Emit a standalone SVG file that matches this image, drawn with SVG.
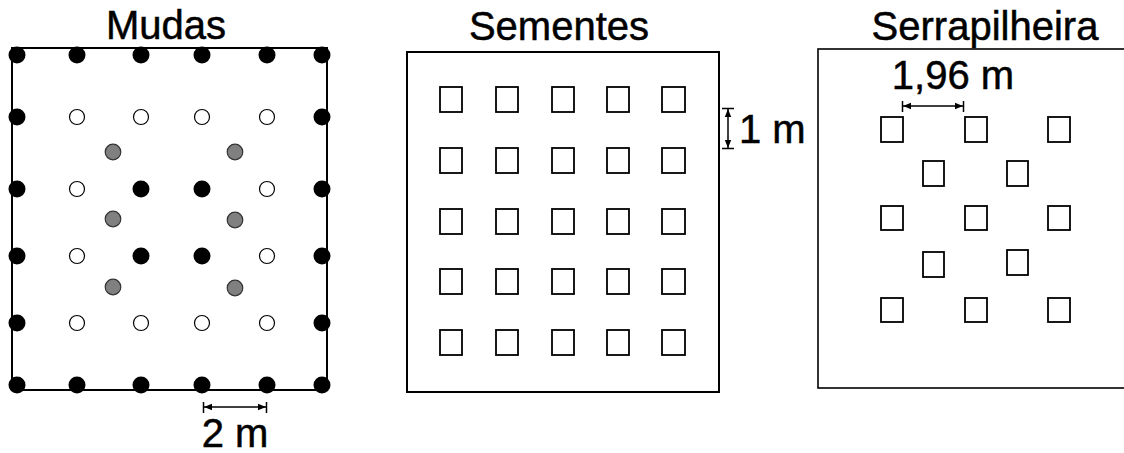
<svg xmlns="http://www.w3.org/2000/svg" width="1124" height="453" viewBox="0 0 1124 453">
<style>
.t{font-family:"Liberation Sans",Arial,sans-serif;font-size:40px;fill:#000;stroke:#000;stroke-width:0.5}
.box{fill:none;stroke:#000;stroke-width:2}
.b{fill:#000}
.o{fill:#fff;stroke:#000;stroke-width:1.2}
.g{fill:#808080;stroke:#333;stroke-width:1.2}
.sq{fill:#fff;stroke:#000;stroke-width:1.8}
.dim{stroke:#000;stroke-width:1.5;fill:none}
</style>
<defs>
<marker id="ah" viewBox="0 0 10 10" refX="10" refY="5" markerWidth="8" markerHeight="8" markerUnits="userSpaceOnUse" orient="auto-start-reverse">
<path d="M0,1 L10,5 L0,9 z" fill="#000"/>
</marker>
</defs>
<rect width="1124" height="453" fill="#fff"/>

<g id="mudas">
<text class="t" x="166" y="39" text-anchor="middle">Mudas</text>
<rect class="box" x="12" y="48" width="315" height="342"/>
<g>
<circle class="b" cx="17" cy="55" r="8.5"/><circle class="b" cx="77" cy="55" r="8.5"/><circle class="b" cx="141" cy="55" r="8.5"/><circle class="b" cx="202" cy="55" r="8.5"/><circle class="b" cx="267" cy="55" r="8.5"/><circle class="b" cx="322" cy="55" r="8.5"/>
<circle class="b" cx="17" cy="117" r="8.5"/><circle class="o" cx="77" cy="117" r="7.5"/><circle class="o" cx="141" cy="117" r="7.5"/><circle class="o" cx="202" cy="117" r="7.5"/><circle class="o" cx="267" cy="117" r="7.5"/><circle class="b" cx="322" cy="117" r="8.5"/>
<circle class="g" cx="113" cy="152" r="7.8"/><circle class="g" cx="235" cy="152" r="7.8"/>
<circle class="b" cx="17" cy="189" r="8.5"/><circle class="o" cx="77" cy="189" r="7.5"/><circle class="b" cx="141" cy="189" r="8.5"/><circle class="b" cx="202" cy="189" r="8.5"/><circle class="o" cx="267" cy="189" r="7.5"/><circle class="b" cx="322" cy="189" r="8.5"/>
<circle class="g" cx="113" cy="219" r="7.8"/><circle class="g" cx="235" cy="220" r="7.8"/>
<circle class="b" cx="17" cy="256" r="8.5"/><circle class="o" cx="77" cy="256" r="7.5"/><circle class="b" cx="141" cy="256" r="8.5"/><circle class="b" cx="202" cy="256" r="8.5"/><circle class="o" cx="267" cy="256" r="7.5"/><circle class="b" cx="322" cy="256" r="8.5"/>
<circle class="g" cx="113" cy="287" r="7.8"/><circle class="g" cx="235" cy="288" r="7.8"/>
<circle class="b" cx="17" cy="323" r="8.5"/><circle class="o" cx="77" cy="323" r="7.5"/><circle class="o" cx="141" cy="323" r="7.5"/><circle class="o" cx="202" cy="323" r="7.5"/><circle class="o" cx="267" cy="323" r="7.5"/><circle class="b" cx="322" cy="323" r="8.5"/>
<circle class="b" cx="17" cy="385" r="8.5"/><circle class="b" cx="77" cy="385" r="8.5"/><circle class="b" cx="141" cy="385" r="8.5"/><circle class="b" cx="202" cy="385" r="8.5"/><circle class="b" cx="267" cy="385" r="8.5"/><circle class="b" cx="322" cy="385" r="8.5"/>
</g>
<text class="t" x="235" y="447" text-anchor="middle">2 m</text>
</g>

<g id="sementes">
<text class="t" x="559" y="40" text-anchor="middle">Sementes</text>
<rect class="box" x="407" y="52" width="312" height="340"/>
<g>
<rect class="sq" x="440" y="87" width="22" height="25"/><rect class="sq" x="496" y="87" width="22" height="25"/><rect class="sq" x="552" y="87" width="22" height="25"/><rect class="sq" x="607" y="87" width="22" height="25"/><rect class="sq" x="662" y="87" width="23" height="25"/>
<rect class="sq" x="440" y="148" width="22" height="25"/><rect class="sq" x="496" y="148" width="22" height="25"/><rect class="sq" x="552" y="148" width="22" height="25"/><rect class="sq" x="607" y="148" width="22" height="25"/><rect class="sq" x="662" y="148" width="23" height="25"/>
<rect class="sq" x="440" y="209" width="22" height="25"/><rect class="sq" x="496" y="209" width="22" height="25"/><rect class="sq" x="552" y="209" width="22" height="25"/><rect class="sq" x="607" y="209" width="22" height="25"/><rect class="sq" x="662" y="209" width="23" height="25"/>
<rect class="sq" x="440" y="269" width="22" height="25"/><rect class="sq" x="496" y="269" width="22" height="25"/><rect class="sq" x="552" y="269" width="22" height="25"/><rect class="sq" x="607" y="269" width="22" height="25"/><rect class="sq" x="662" y="269" width="23" height="25"/>
<rect class="sq" x="440" y="330" width="22" height="25"/><rect class="sq" x="496" y="330" width="22" height="25"/><rect class="sq" x="552" y="330" width="22" height="25"/><rect class="sq" x="607" y="330" width="22" height="25"/><rect class="sq" x="662" y="330" width="23" height="25"/>
</g>
<text class="t" x="739" y="143">1 m</text>
</g>

<g id="serrapilheira">
<text class="t" x="985" y="40" text-anchor="middle">Serrapilheira</text>
<rect class="box" x="818" y="49" width="320" height="339" style="stroke-width:1.6"/>
<g>
<rect class="sq" x="881" y="117" width="22" height="25"/><rect class="sq" x="965" y="117" width="22" height="25"/><rect class="sq" x="1048" y="117" width="22" height="25"/>
<rect class="sq" x="923" y="161" width="21" height="25"/><rect class="sq" x="1007" y="161" width="21" height="25"/>
<rect class="sq" x="881" y="206" width="22" height="24"/><rect class="sq" x="965" y="206" width="22" height="24"/><rect class="sq" x="1048" y="206" width="22" height="24"/>
<rect class="sq" x="923" y="252" width="21" height="25"/><rect class="sq" x="1007" y="250" width="21" height="25"/>
<rect class="sq" x="881" y="298" width="22" height="24"/><rect class="sq" x="965" y="298" width="22" height="24"/><rect class="sq" x="1048" y="298" width="22" height="24"/>
</g>
<text class="t" x="953" y="89" text-anchor="middle">1,96 m</text>
</g>

<g id="connectors">
<line class="dim" x1="204" y1="407" x2="266" y2="407" marker-start="url(#ah)" marker-end="url(#ah)"/>
<line class="dim" x1="203.5" y1="402" x2="203.5" y2="413"/>
<line class="dim" x1="266.5" y1="402" x2="266.5" y2="413"/>
<line class="dim" x1="728" y1="109" x2="728" y2="148" marker-start="url(#ah)" marker-end="url(#ah)"/>
<line class="dim" x1="722" y1="108.5" x2="734" y2="108.5"/>
<line class="dim" x1="722" y1="148.5" x2="734" y2="148.5"/>
<line class="dim" x1="903" y1="106" x2="963" y2="106" marker-start="url(#ah)" marker-end="url(#ah)"/>
<line class="dim" x1="902.5" y1="101" x2="902.5" y2="112"/>
<line class="dim" x1="963.5" y1="101" x2="963.5" y2="112"/>
</g>
</svg>
